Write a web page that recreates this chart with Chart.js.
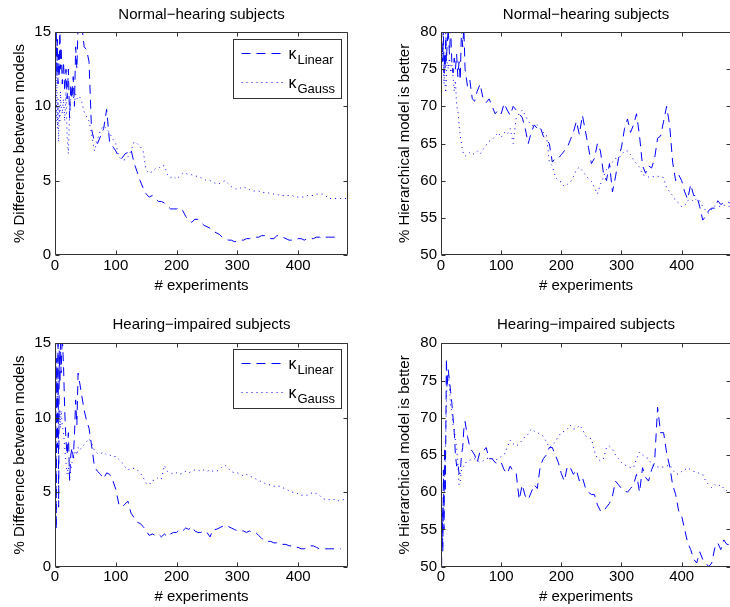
<!DOCTYPE html>
<html>
<head>
<meta charset="utf-8">
<script src="https://cdn.jsdelivr.net/npm/chart.js@4.4.1/dist/chart.umd.min.js"></script>
<style>
  body { margin: 0; background: #fff; overflow: hidden; width: 730px; height: 607px; }
  canvas { position: absolute; }
</style>
</head>
<body>
<canvas id="normalDiff" width="365" height="300" style="left:0px;top:0px"></canvas>
<canvas id="normalBetter" width="370" height="300" style="left:365px;top:0px"></canvas>
<canvas id="impairedDiff" width="365" height="307" style="left:0px;top:300px"></canvas>
<canvas id="impairedBetter" width="370" height="307" style="left:365px;top:300px"></canvas>
<script>
// x positions (number of experiments), finer at the start where the curves jump a lot
const experiments = [1, 2, 3, 4, 5, 6, 7, 8, 9, 10,
  12, 14, 16, 18, 20, 22, 24, 26, 28, 30, 32, 34, 36, 38, 40,
  44, 48, 52, 56, 60,
  65, 70, 75, 80, 85, 90, 95, 100, 105, 110,
  115, 120, 125, 130, 135, 140, 145, 150, 155, 160,
  165, 170, 175, 180, 185, 190, 195, 200, 205, 210,
  215, 220, 225, 230, 235, 240, 245, 250, 255, 260,
  265, 270, 275, 280, 285, 290, 295, 300, 305, 310,
  315, 320, 325, 330, 335, 340, 345, 350, 355, 360,
  365, 370, 375, 380, 385, 390, 395, 400, 405, 410,
  415, 420, 425, 430, 435, 440, 445, 450, 455, 460,
  465, 470, 475, 480]

const expTicks = [0, 100, 200, 300, 400]
const diffTicks = [0, 5, 10, 15]
const betterTicks = [50, 55, 60, 65, 70, 75, 80]
const seriesNames = ['Linear', 'Gauss']

// Normal-hearing, % difference between models
const normalLinearDiff = [13, 15.5, 12, 14.5, 11.5, 13.5, 12, 15.5, 12.5, 14,
  11.5, 13, 11, 12.5, 10.5, 12.5, 9.2, 11.5, 10.5, 12, 10, 14, 12.5, 15.5, 15.5,
  15.5, 14, 13.8, 13, 8.5,
  7.6, 7.5, 8.0, 8.5, 9.8, 7.5, 7.3, 7.0, 6.6, 6.5,
  6.8, 6.9, 7.1, 6.2, 5.6, 5.0, 4.5, 4.1, 3.9, 4.0,
  3.8, 3.6, 3.6, 3.5, 3.3, 3.1, 3.1, 3.1, 3.2, 3.0,
  2.6, 2.3, 2.2, 2.4, 2.4, 2.2, 2.0, 1.9, 1.8, 1.6,
  1.5, 1.4, 1.2, 1.1, 1.0, 1.0, 0.9, 0.9, 1.0, 1.0,
  1.1, 1.1, 1.2, 1.2, 1.2, 1.3, 1.3, 1.2, 1.1, 1.1,
  1.3, 1.3, 1.2, 1.1, 1.0, 1.0, 1.0, 1.1, 1.1, 1.0,
  1.1, 1.1, 1.1, 1.2, 1.2, 1.1, 1.2, 1.2, 1.2, 1.2,
  1.2, 1.2, null, null]
const normalGaussDiff = [11, 9, 12, 8.5, 10.5, 7.6, 10, 9, 11, 10,
  9.5, 10.5, 9, 11, 8, 6.8, 9.5, 10.5, 11, 10.8, 10.2, 10.8, 10.5, 10.6, 10.7,
  10.3, 9.6, 9.3, 9.0, 8.2,
  7.0, 7.8, 8.4, 8.7, 8.5, 8.2, 7.8, 7.5, 6.6, 6.4,
  6.4, 6.6, 7.0, 7.6, 7.5, 7.3, 7.0, 5.7, 5.5, 5.6,
  5.8, 5.8, 6.0, 6.0, 5.4, 5.2, 5.3, 5.1, 5.3, 5.5,
  5.5, 5.4, 5.4, 5.3, 5.3, 5.2, 5.1, 5.0, 5.0, 4.9,
  4.8, 4.8, 4.9, 5.0, 4.8, 4.6, 4.5, 4.4, 4.5, 4.6,
  4.5, 4.4, 4.3, 4.3, 4.3, 4.2, 4.2, 4.2, 4.1, 4.1,
  4.1, 4.0, 4.0, 4.0, 4.0, 4.0, 3.9, 3.9, 3.9, 3.9,
  4.0, 4.0, 4.0, 4.1, 4.1, 4.1, 4.0, 3.8, 3.8, 3.8,
  3.8, 3.8, 3.8, 3.8]

// Normal-hearing, % hierarchical model is better
const normalLinearBetter = [80.5, 78, 76, 80.5, 74.5, 77, 75, 80.5, 76, 78,
  80.5, 77, 80.5, 76, 74.5, 76.5, 75, 77, 74, 76, 73.5, 80.5, 78, 80.5, 75,
  72.7, 73.5, 71, 70.7, 72,
  73, 71, 70.5, 71, 70, 69, 69.5, 69, 70.4, 69.5,
  68.8, 70, 69.5, 69, 68.5, 67, 65, 66.5, 67.5, 67,
  67.2, 66, 65.5, 65, 62.5, 63, 63, 63.5, 64, 64.5,
  65.5, 66.5, 68, 66.2, 68.8, 66.7, 64.5, 62.3, 63, 65,
  64, 61, 60, 62.3, 58.5, 60.5, 63, 64.5, 67, 68.3,
  66.5, 67.5, 69, 66, 62, 61, 62, 61.7, 63, 65.7,
  66, 68, 70, 67.5, 62.5, 60, 60.8, 60, 58.5, 57.5,
  59.5, 58, 58, 56.5, 54.7, 55.2, 56, 56.3, 56.3, 57.3,
  56.8, 57, 57.2, 57]
const normalGaussBetter = [79, 76, 78, 74.5, 73, 75, 72.5, 71.8, 74, 76,
  75, 76.5, 74.5, 75.5, 74, 72, 73.5, 70, 69.5, 67.5, 66, 65, 64, 63.5, 63.3,
  63.5, 63.8, 63.5, 63.7, 64,
  63.6, 64.2, 64.8, 65.3, 65.5, 66, 66.5, 65.8, 66.5, 66.2,
  67, 65, 68.5, 69, 69.5, 68.8, 68, 67.5, 67.3, 67.5,
  67, 66.5, 66.3, 62.5, 62, 60.5, 60, 59.8, 59.2, 59.5,
  59.8, 60.5, 61.5, 61.8, 61.3, 60.8, 60.3, 59.9, 59.1, 58.2,
  59.5, 60.5, 61.5, 61.8, 62.5, 63, 63, 63.5, 64, 64,
  63.5, 62.8, 62.3, 61.8, 60.8, 60.7, 60.5, 60.6, 60.5, 60.6,
  60.5, 60.4, 59, 58.5, 58, 57.3, 57, 56.5, 56.6, 57.3,
  57.5, 57.2, 57.6, 57.3, 56.5, 56, 55.6, 56.2, 56.6, 56.6,
  56.5, 56.7, 56.6, 56.5]

// Hearing-impaired, % difference between models
const impairedLinearDiff = [15.5, 2.5, 14, 8, 15.5, 4, 14.5, 12.3, 15, 13,
  15.5, 13.5, 10.5, 8.5, 7.5, 9, 5.8, 7.5, 8, 7.3, 8.8, 11.2, 9.5, 13, 12.5,
  11.5, 10.5, 9.8, 9.3, 8.2,
  6.7, 6.4, 6.2, 5.9, 6.3, 6.2, 5.8, 5.2, 4.2, 4.0,
  4.2, 4.4, 3.6, 3.3, 3.0, 2.9, 2.7, 2.4, 2.1, 2.2,
  2.1, 2.2, 2.0, 2.2, 2.0, 2.2, 2.3, 2.3, 2.5, 2.4,
  2.6, 2.5, 2.7, 2.4, 2.3, 2.3, 2.4, 2.3, 2.0, 2.5,
  2.5, 2.6, 2.7, 2.8, 2.7, 2.6, 2.5, 2.4, 2.4, 2.4,
  2.3, 2.4, 2.3, 2.3, 2.1, 1.9, 1.8, 1.7, 1.7, 1.6,
  1.6, 1.6, 1.5, 1.5, 1.4, 1.4, 1.3, 1.3, 1.2, 1.2,
  1.3, 1.4, 1.4, 1.3, 1.2, 1.2, 1.2, 1.2, 1.2, 1.2,
  1.2, 1.2, null, null]
const impairedGaussDiff = [14, 12, 13.5, 11, 12.5, 10, 9.5, 10.5, 9.3, 10.5,
  9.5, 9, 8, 7, 6.2, 6.7, 5.8, 6.5, 7, 7.2, 7.6, 7.8, 7.5, 8, 7.8,
  8, 8.2, 8.4, 8.6, 8.3,
  7.8, 7.6, 7.6, 7.7, 7.5, 7.5, 7.4, 7.4, 7.2, 7.0,
  6.7, 6.5, 6.6, 6.6, 6.5, 6.3, 6.0, 5.6, 5.5, 5.8,
  5.8, 6.0, 5.9, 6.8, 6.4, 6.3, 6.2, 6.3, 6.2, 6.3,
  6.4, 6.3, 6.4, 6.5, 6.5, 6.4, 6.5, 6.4, 6.5, 6.4,
  6.4, 6.5, 6.7, 6.8, 6.6, 6.4, 6.3, 6.3, 6.2, 6.1,
  6.2, 6.1, 6.0, 5.9, 5.8, 5.7, 5.6, 5.5, 5.5, 5.4,
  5.4, 5.4, 5.3, 5.2, 5.1, 5.0, 5.0, 4.9, 4.8, 4.8,
  4.8, 4.9, 5.0, 4.9, 4.8, 4.6, 4.5, 4.5, 4.5, 4.5,
  4.4, 4.5, 4.5, 4.6]

// Hearing-impaired, % hierarchical model is better
const impairedLinearBetter = [50, 58, 52, 63, 55, 66, 60, 68, 78, 74,
  76.5, 75, 73.5, 72, 70, 68, 65, 63.5, 64, 62.5, 62.5, 65, 66, 68.5, 69.5,
  67.5, 66, 65.5, 65, 64,
  65.5, 65.5, 66, 64.5, 64.5, 64, 63.8, 64, 63, 62.5,
  63.5, 62.8, 62.5, 59, 61, 59.5, 59, 60, 61, 60.5,
  63.5, 64.5, 65, 66, 66, 65, 64, 62.5, 61.5, 63.5,
  63.3, 62.4, 63, 61.5, 62, 60.6, 60, 59.7, 59.7, 58.3,
  57.5, 57.4, 58, 58.5, 59.5, 61.5, 61, 60.5, 60.2, 60,
  60.5, 61, 62.4, 60, 63.3, 62, 61.5, 63, 64, 71.4,
  68, 68, 65.3, 63.5, 61, 59.7, 57.5, 56.8, 55, 53.2,
  52.3, 51, 50.5, 52, 51, 50.5, 50, 50.5, 52.5, 53.2,
  52.3, 53.6, 53, 53]
const impairedGaussBetter = [52, 56, 54, 58, 57, 62, 64, 68, 72, 75,
  76, 74, 71.5, 71, 69, 68.5, 67, 66, 64, 61, 61.5, 63, 63.3, 63.5, 64,
  64, 64.3, 64.5, 64.5, 64.3,
  64, 64.2, 64.5, 64.6, 64.5, 64.3, 64.5, 64.8, 65, 66,
  67, 66.5, 66.2, 66.5, 67, 67.5, 67.8, 68.5, 68.2, 68,
  67.8, 67.5, 66.8, 66, 66.3, 66.8, 67.5, 68, 68.2, 68.5,
  69, 68.5, 68.5, 69, 68.5, 67.6, 67.3, 67.2, 65.5, 64.5,
  64.2, 64.5, 66, 66.2, 65.8, 65, 64.5, 64, 63.7, 63.5,
  63.3, 63.3, 64.5, 65.4, 65, 64.7, 64.5, 63.7, 63.5, 63.4,
  63.3, 63.4, 63.5, 63.7, 63, 62.5, 62.4, 62.8, 63, 63.3,
  63, 62.8, 62.7, 62.5, 62.4, 61.5, 61, 60.6, 61, 60.8,
  61, 60.5, 60.2, 59.8]

const FONT = "'Liberation Sans', Arial, sans-serif"
const AXIS = '#333'
const BLUE = 'rgb(0,0,255)'

// matlab-like box: frame, inward ticks on all four sides, and the kappa legend
const matlabBox = {
  id: 'matlabBox',
  afterDraw(chart, args, opts) {
    const ctx = chart.ctx
    const a = chart.chartArea
    const sx = chart.scales.x, sy = chart.scales.y
    const L = Math.round(a.left) + 0.5, R = Math.round(a.right) - 0.5
    const T = Math.round(a.top) + 0.5, B = Math.round(a.bottom) - 0.5
    ctx.save()
    ctx.strokeStyle = AXIS
    ctx.lineWidth = 1
    ctx.setLineDash([])
    ctx.beginPath()
    ctx.rect(L, T, R - L, B - T)
    sx.ticks.forEach(t => {
      const px = Math.round(sx.getPixelForValue(t.value)) + 0.5
      ctx.moveTo(px, B); ctx.lineTo(px, B - 4)
      ctx.moveTo(px, T); ctx.lineTo(px, T + 4)
    })
    sy.ticks.forEach(t => {
      const py = Math.round(sy.getPixelForValue(t.value)) + 0.5
      ctx.moveTo(L, py); ctx.lineTo(L + 4, py)
      ctx.moveTo(R, py); ctx.lineTo(R - 4, py)
    })
    ctx.stroke()

    if (opts.legend) {
      const w = 108, h = 59
      const bx = Math.round(a.right - opts.legend.right - w) + 0.5
      const by = Math.round(a.top + opts.legend.top) + 0.5
      ctx.fillStyle = '#fff'
      ctx.fillRect(bx, by, w, h)
      ctx.strokeRect(bx, by, w, h)
      chart.data.datasets.forEach((ds, i) => {
        const ly = by + 14 + i * 29
        ctx.strokeStyle = ds.borderColor
        ctx.setLineDash(ds.borderDash)
        ctx.beginPath()
        ctx.moveTo(bx + 8, ly)
        ctx.lineTo(bx + 52, ly)
        ctx.stroke()
        const parts = ds.label.split('_')
        ctx.fillStyle = '#000'
        ctx.textBaseline = 'alphabetic'
        ctx.font = '16px ' + FONT
        ctx.fillText(parts[0], bx + 55, ly + 5)
        ctx.font = '13px ' + FONT
        ctx.fillText(parts[1], bx + 64, ly + 10)
      })
    }
    ctx.restore()
  }
}

function makePanel(id, p) {
  const ctx = document.getElementById(id).getContext('2d')
  return new Chart(ctx, {
    type: 'line',
    data: {
      labels: experiments,
      datasets: [{
        label: 'κ_' + seriesNames[0],
        data: p.linear,
        borderColor: BLUE,
        borderWidth: 1,
        borderDash: [9, 6],
        pointRadius: 0,
        tension: 0,
        fill: false
      }, {
        label: 'κ_' + seriesNames[1],
        data: p.gauss,
        borderColor: BLUE,
        borderWidth: 1,
        borderDash: [1, 4],
        pointRadius: 0,
        tension: 0,
        fill: false
      }]
    },
    options: {
      responsive: false,
      animation: false,
      events: [],
      layout: { padding: { left: 0, right: p.padRight, top: 0, bottom: 0 } },
      scales: {
        x: {
          type: 'linear',
          min: 0,
          max: 482,
          afterBuildTicks: s => { s.ticks = expTicks.map(v => ({ value: v })) },
          afterFit: s => { s.height = p.xHeight },
          grid: { display: false, drawTicks: false },
          border: { display: false },
          ticks: { padding: 1.5, color: '#000', font: { family: FONT, size: 15 }, maxRotation: 0 },
          title: {
            display: true, text: '# experiments', color: '#000',
            font: { family: FONT, size: 15, lineHeight: '16px' },
            padding: { top: 0, bottom: p.xTitlePad }
          }
        },
        y: {
          min: p.yTicks[0],
          max: p.yTicks[p.yTicks.length - 1],
          afterBuildTicks: s => { s.ticks = p.yTicks.map(v => ({ value: v })) },
          afterFit: s => { s.width = p.yWidth },
          grid: { display: false, drawTicks: false },
          border: { display: false },
          ticks: { padding: 4, color: '#000', font: { family: FONT, size: 15 } },
          title: {
            display: true, text: p.yLabel, color: '#000',
            font: { family: FONT, size: 15, lineHeight: '16px' },
            padding: { top: p.yTitlePad, bottom: 0 }
          }
        }
      },
      plugins: {
        legend: { display: false },
        tooltip: { enabled: false },
        title: {
          display: true, text: p.title, color: '#000', fullSize: false,
          font: { family: FONT, size: 15, weight: 'normal', lineHeight: '16px' },
          padding: { top: p.titleTop, bottom: p.titleBottom }
        },
        matlabBox: { legend: p.legend }
      }
    },
    plugins: [matlabBox]
  })
}

window.charts = [
  makePanel('normalDiff', {
    title: 'Normal−hearing subjects', yLabel: '% Difference between models',
    linear: normalLinearDiff, gauss: normalGaussDiff, yTicks: diffTicks,
    padRight: 17, yWidth: 55, yTitlePad: 12, xHeight: 45, xTitlePad: 6,
    titleTop: 7, titleBottom: 9, legend: { top: 7, right: 7 }
  }),
  makePanel('normalBetter', {
    title: 'Normal−hearing subjects', yLabel: '% Hierarchical model is better',
    linear: normalLinearBetter, gauss: normalGaussBetter, yTicks: betterTicks,
    padRight: 4, yWidth: 76, yTitlePad: 32, xHeight: 45, xTitlePad: 6,
    titleTop: 7, titleBottom: 9, legend: null
  }),
  makePanel('impairedDiff', {
    title: 'Hearing−impaired subjects', yLabel: '% Difference between models',
    linear: impairedLinearDiff, gauss: impairedGaussDiff, yTicks: diffTicks,
    padRight: 17, yWidth: 55, yTitlePad: 12, xHeight: 40.3, xTitlePad: 2.3,
    titleTop: 17, titleBottom: 10.3, legend: { top: 5.7, right: 7 }
  }),
  makePanel('impairedBetter', {
    title: 'Hearing−impaired subjects', yLabel: '% Hierarchical model is better',
    linear: impairedLinearBetter, gauss: impairedGaussBetter, yTicks: betterTicks,
    padRight: 4, yWidth: 76, yTitlePad: 32, xHeight: 40.3, xTitlePad: 2.3,
    titleTop: 17, titleBottom: 10.3, legend: null
  })
]
</script>
</body>
</html>
